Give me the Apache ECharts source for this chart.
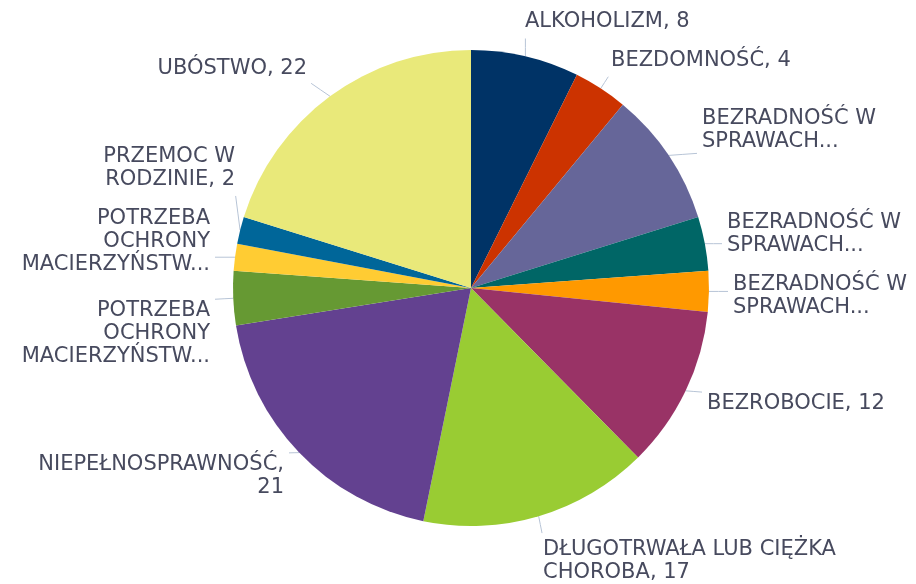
<!DOCTYPE html>
<html>
<head>
<meta charset="utf-8">
<script src="https://cdn.jsdelivr.net/npm/echarts@6/dist/echarts.min.js"></script>
<style>
  html, body { margin: 0; padding: 0; background: #fff; }
  #chart { width: 916px; height: 584px; }
</style>
</head>
<body>
<div id="chart"></div>
<script>
// pełne nazwy kategorii
const categories = [
  'ALKOHOLIZM',
  'BEZDOMNOŚĆ',
  'BEZRADNOŚĆ W SPRAWACH OPIEKUŃCZO-WYCHOWAWCZYCH',
  'BEZRADNOŚĆ W SPRAWACH OPIEKUŃCZO-WYCHOWAWCZYCH - RODZINY NIEPEŁNE',
  'BEZRADNOŚĆ W SPRAWACH OPIEKUŃCZO-WYCHOWAWCZYCH - RODZINY WIELODZIETNE',
  'BEZROBOCIE',
  'DŁUGOTRWAŁA LUB CIĘŻKA CHOROBA',
  'NIEPEŁNOSPRAWNOŚĆ',
  'POTRZEBA OCHRONY MACIERZYŃSTWA',
  'POTRZEBA OCHRONY MACIERZYŃSTWA - WIELODZIETNOŚĆ',
  'PRZEMOC W RODZINIE',
  'UBÓSTWO'
]
// tekst etykiet tak jak na wykresie (obcięty, z łamaniem)
const labelTexts = [
  'ALKOHOLIZM, {v}',
  'BEZDOMNOŚĆ, {v}',
  'BEZRADNOŚĆ W\nSPRAWACH...',
  'BEZRADNOŚĆ W\nSPRAWACH...',
  'BEZRADNOŚĆ W\nSPRAWACH...',
  'BEZROBOCIE, {v}',
  'DŁUGOTRWAŁA LUB CIĘŻKA\nCHOROBA, {v}',
  'NIEPEŁNOSPRAWNOŚĆ,\n{v}',
  'POTRZEBA\nOCHRONY\nMACIERZYŃSTW...',
  'POTRZEBA\nOCHRONY\nMACIERZYŃSTW...',
  'PRZEMOC W\nRODZINIE, {v}',
  'UBÓSTWO, {v}'
]
const values = [8, 4, 10, 4, 3, 12, 17, 21, 4, 2, 2, 22]
const colors = [
  '#003366', '#cc3300', '#666699', '#006666', '#ff9900', '#993366',
  '#99cc33', '#634190', '#669933', '#ffcc33', '#006699', '#e9e97a'
]

// rozmieszczenie etykiet: [wyrównanie, x, środek y]
const labelPlace = [
  ['left', 525, 22],
  ['left', 611, 61],
  ['left', 702, 130],
  ['left', 727, 234],
  ['left', 733, 296],
  ['left', 707, 404],
  ['left', 543, 561],
  ['right', 284, 476],
  ['right', 210, 334],
  ['right', 210, 242],
  ['right', 235, 168],
  ['right', 307, 69]
]

const chart = echarts.init(document.getElementById('chart'))

// prosta linia od krawędzi wycinka do najbliższego punktu etykiety
function guideLine(p, align, x, y) {
  if (!p.labelLinePoints) return undefined
  const s = p.labelLinePoints[0]
  const w = p.labelRect.width
  const h = p.labelRect.height
  const x0 = align === 'left' ? x : x - w
  const x1 = x0 + w
  const y0 = y - h / 2
  const y1 = y + h / 2
  let ex = Math.min(Math.max(s[0], x0), x1)
  let ey = Math.min(Math.max(s[1], y0), y1)
  const dx = s[0] - ex
  const dy = s[1] - ey
  const len = Math.sqrt(dx * dx + dy * dy) || 1
  const gap = Math.min(5, len / 3)
  ex += (dx / len) * gap
  ey += (dy / len) * gap
  return [s, [(s[0] + ex) / 2, (s[1] + ey) / 2], [ex, ey]]
}

chart.setOption({
  animation: false,
  series: [
    {
      type: 'pie',
      center: [471, 288],
      radius: 238,
      startAngle: 90,
      clockwise: true,
      avoidLabelOverlap: false,
      label: {
        show: true,
        fontFamily: 'DejaVu Sans',
        fontSize: 21,
        lineHeight: 23,
        color: '#474a5e',
        formatter: p => labelTexts[p.dataIndex].replace('{v}', p.value)
      },
      labelLine: {
        show: true,
        length: 20,
        length2: 2,
        lineStyle: { color: '#b7c4d6', width: 1 }
      },
      labelLayout: p => {
        const [align, x, y] = labelPlace[p.dataIndex]
        const pts = guideLine(p, align, x, y)
        const opt = { x, y, align, verticalAlign: 'middle' }
        if (pts) opt.labelLinePoints = pts
        return opt
      },
      data: categories.map((c, i) => ({
        name: c,
        value: values[i],
        itemStyle: { color: colors[i] }
      }))
    }
  ]
})
</script>
</body>
</html>
